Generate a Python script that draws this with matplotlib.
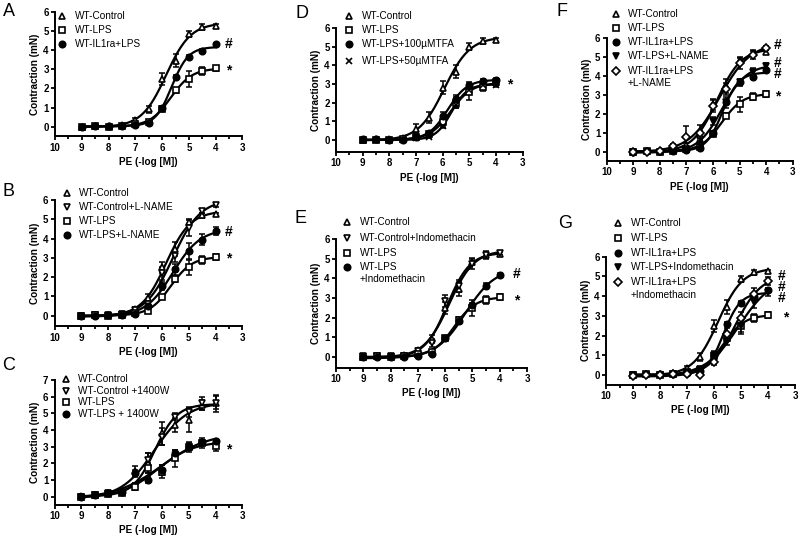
import matplotlib

matplotlib.use("Agg")
import matplotlib.pyplot as plt
from matplotlib.lines import Line2D
import numpy as np

plt.rcParams["font.family"] = ["Liberation Sans", "DejaVu Sans"]

W, H = 800, 536

# PE concentrations (-log [M])
PE = [9, 8.5, 8, 7.5, 7, 6.5, 6, 5.5, 5, 4.5, 4]

# shared groups (A, B, E, F, G)
wt_control = [0.0, 0.05, 0.05, 0.1, 0.35, 0.9, 2.5, 3.45, 4.85, 5.2, 5.25]
wt_control_err = [0.05, 0.05, 0.05, 0.05, 0.1, 0.2, 0.3, 0.35, 0.15, 0.15, 0.1]
wt_lps = [0.0, 0.05, 0.0, 0.05, 0.15, 0.25, 0.95, 1.9, 2.5, 2.9, 3.05]
wt_lps_err = [0.05, 0.05, 0.05, 0.05, 0.05, 0.05, 0.1, 0.15, 0.4, 0.2, 0.15]
wt_il1ra_lps = [0.0, 0.05, 0.05, 0.05, 0.1, 0.2, 1.0, 2.6, 3.65, 3.95, 4.3]
wt_il1ra_lps_err = [0.05, 0.05, 0.05, 0.05, 0.05, 0.05, 0.1, 0.1, 0.1, 0.1, 0.1]

# B
ctrl_lname = [0.0, 0.05, 0.05, 0.1, 0.3, 0.6, 2.2, 3.1, 4.55, 5.45, 5.75]
ctrl_lname_err = [0.05, 0.05, 0.05, 0.05, 0.1, 0.15, 0.35, 0.3, 0.4, 0.1, 0.1]
lps_lname = [0.0, 0.0, 0.05, 0.05, 0.1, 0.5, 1.55, 2.4, 3.35, 3.95, 4.4]
lps_lname_err = [0.05, 0.05, 0.05, 0.05, 0.05, 0.1, 0.2, 0.3, 0.4, 0.3, 0.2]

# C
c_ctrl = [0.05, 0.1, 0.2, 0.3, 1.55, 2.0, 3.8, 4.3, 4.6, 5.5, 5.65]
c_ctrl_err = [0.05, 0.05, 0.1, 0.1, 0.3, 0.6, 0.7, 0.4, 0.7, 0.3, 0.4]
c_ctrl_1400w = [0.0, 0.1, 0.2, 0.3, 0.6, 2.2, 3.6, 4.8, 5.1, 5.6, 5.6]
c_ctrl_1400w_err = [0.05, 0.05, 0.05, 0.1, 0.2, 0.4, 0.5, 0.2, 0.3, 0.4, 0.5]
c_lps = [0.0, 0.1, 0.15, 0.2, 0.6, 1.7, 1.5, 2.3, 3.0, 3.2, 3.05]
c_lps_err = [0.05, 0.05, 0.05, 0.1, 0.2, 0.3, 0.4, 0.5, 0.3, 0.3, 0.3]
c_lps_1400w = [0.0, 0.1, 0.2, 0.3, 1.4, 1.0, 1.6, 2.6, 3.0, 3.3, 3.35]
c_lps_1400w_err = [0.05, 0.05, 0.05, 0.1, 0.2, 0.2, 0.3, 0.2, 0.2, 0.1, 0.1]

# D
d_ctrl = [0.0, 0.05, 0.05, 0.1, 0.6, 1.2, 2.8, 3.65, 5.0, 5.3, 5.35]
d_ctrl_err = [0.05, 0.05, 0.05, 0.05, 0.25, 0.3, 0.35, 0.35, 0.2, 0.15, 0.1]
d_lps = [0.0, 0.0, 0.0, 0.05, 0.15, 0.3, 0.95, 2.0, 2.55, 2.85, 3.1]
d_lps_err = [0.05, 0.05, 0.05, 0.05, 0.05, 0.1, 0.2, 0.3, 0.4, 0.2, 0.15]
d_mtfa100 = [0.05, 0.05, 0.0, 0.0, 0.15, 0.35, 1.3, 2.2, 2.95, 3.15, 3.2]
d_mtfa100_err = [0.05, 0.05, 0.05, 0.05, 0.05, 0.1, 0.2, 0.2, 0.15, 0.1, 0.1]
d_mtfa50 = [0.0, 0.0, 0.0, 0.0, 0.1, 0.15, 0.75, 1.9, 2.7, 2.95, 2.95]
d_mtfa50_err = [0.05, 0.05, 0.05, 0.05, 0.05, 0.05, 0.1, 0.2, 0.2, 0.1, 0.1]

# E
ctrl_indo = [0.05, 0.05, 0.05, 0.05, 0.3, 0.7, 2.85, 3.6, 4.75, 5.2, 5.3]
ctrl_indo_err = [0.1, 0.05, 0.05, 0.05, 0.1, 0.2, 0.3, 0.3, 0.3, 0.2, 0.1]
lps_indo_e = [0.0, 0.0, 0.0, 0.0, 0.05, 0.15, 0.95, 1.85, 2.65, 3.6, 4.15]
lps_indo_e_err = [0.05, 0.05, 0.05, 0.05, 0.05, 0.05, 0.1, 0.1, 0.1, 0.15, 0.1]

# F
f_lps_lname = [0.0, 0.0, 0.0, 0.05, 0.1, 0.4, 1.6, 2.6, 3.65, 4.2, 4.5]
f_lps_lname_err = [0.05, 0.05, 0.05, 0.05, 0.05, 0.1, 0.2, 0.3, 0.2, 0.2, 0.15]
f_il1ra_lname = [0.0, 0.0, 0.05, 0.3, 0.75, 1.0, 2.4, 3.3, 4.65, 5.1, 5.45]
f_il1ra_lname_err = [0.05, 0.05, 0.05, 0.1, 0.6, 0.4, 0.3, 0.3, 0.3, 0.2, 0.1]

# G
g_lps_indo = [0.0, 0.0, 0.0, 0.05, 0.1, 0.3, 1.0, 1.7, 2.5, 3.7, 4.2]
g_lps_indo_err = [0.05, 0.05, 0.05, 0.05, 0.05, 0.1, 0.2, 0.2, 0.3, 0.3, 0.2]
g_il1ra_indo = [-0.05, 0.0, 0.0, 0.05, 0.05, 0.0, 0.65, 2.1, 2.9, 4.1, 4.75]
g_il1ra_indo_err = [0.05, 0.05, 0.05, 0.05, 0.05, 0.05, 0.15, 0.3, 0.3, 0.3, 0.2]

# marker styles: (marker, filled, size)
STYLES = {
    "tri": ("^", False, 4.8),
    "vtri": ("v", False, 4.8),
    "vfill": ("v", True, 4.8),
    "sq": ("s", False, 4.2),
    "dot": ("o", True, 4.6),
    "dia": ("D", False, 3.8),
    "x": ("x", True, 4.4),
}


def fit_sigmoid(x, y):
    """Least-squares 4-parameter logistic (grid over pEC50/slope, linear in bottom/top)."""
    x = np.asarray(x, float)
    y = np.asarray(y, float)
    pec = np.arange(4.0, 8.0, 0.01)[:, None, None]
    hill = np.arange(0.5, 3.0, 0.05)[None, :, None]
    f = 1.0 / (1.0 + 10 ** ((x[None, None, :] - pec) * hill))
    fm = f.mean(axis=2, keepdims=True)
    ym = y.mean()
    a = ((f - fm) * (y - ym)).sum(axis=2, keepdims=True) / ((f - fm) ** 2).sum(axis=2, keepdims=True)
    b = ym - a * fm
    sse = ((b + a * f - y) ** 2).sum(axis=2)
    i, j = np.unravel_index(np.argmin(sse), sse.shape)
    return pec[i, 0, 0], hill[0, j, 0], b[i, j, 0], a[i, j, 0]


def panel(fig, rect_px, ymax, ybot, letter, letter_xy, series, legend, marks):
    left, right, y_top, y_zero = rect_px
    unit = (y_zero - y_top) / ymax
    y_bot = y_zero - ybot * unit
    ax = fig.add_axes([left / W, 1 - y_bot / H, (right - left) / W, (y_bot - y_top) / H])
    ax.set_xlim(10, 3)
    ax.set_ylim(ybot, ymax)
    for side in ("top", "right"):
        ax.spines[side].set_visible(False)
    for side in ("left", "bottom"):
        ax.spines[side].set_linewidth(1.4)
    ax.set_xticks(range(3, 11))
    ax.set_xticks(np.arange(3.5, 10, 1), minor=True)
    ax.set_yticks(range(0, ymax + 1))
    ax.tick_params(which="major", direction="out", length=3, width=1.3, pad=1.5, labelsize=7)
    ax.tick_params(which="minor", direction="out", length=2, width=1.3)
    for lab in ax.get_xticklabels() + ax.get_yticklabels():
        lab.set_fontweight("bold")
    ax.set_xlabel("PE (-log [M])", fontsize=7.2, fontweight="bold", labelpad=3)
    ax.set_ylabel("Contraction (mN)", fontsize=7.2, fontweight="bold", labelpad=2)

    xs = np.linspace(4, 9, 200)
    for vals, errs, style in series:
        pec, h, b, a = fit_sigmoid(PE, vals)
        ax.plot(xs, b + a / (1 + 10 ** ((xs - pec) * h)), color="black", lw=1.6, zorder=2)
        m, filled, ms = STYLES[style]
        ax.errorbar(PE, vals, yerr=errs, fmt="none", ecolor="black", elinewidth=1.1,
                    capsize=2.3, capthick=1.1, zorder=3)
        ax.plot(PE, vals, ls="none", marker=m, ms=ms, mew=1.2, mec="black",
                mfc="black" if filled else "white", zorder=4)

    # significance marks; stacked ones share one text
    for txt, px, py in marks:
        ax.text(px, py, txt, fontsize=10, fontweight="bold", ha="center", va="center",
                linespacing=0.74)

    fig.text(letter_xy[0] / W, 1 - letter_xy[1] / H, letter, fontsize=13, ha="center", va="center")

    mx, tx, rows, labels, styles = legend
    for ry, lab, st in zip(rows, labels, styles):
        m, filled, ms = STYLES[st]
        fig.add_artist(Line2D([mx / W], [1 - ry / H], transform=fig.transFigure, ls="none",
                              marker=m, ms=ms, mew=1.2, mec="black",
                              mfc="black" if filled else "white"))
        for k, line in enumerate(lab.split("\n")):
            fig.text(tx / W, 1 - (ry + 12.5 * k) / H, line, fontsize=7.2, ha="left", va="center")
    return ax


fig = plt.figure(figsize=(W / 100, H / 100), dpi=100)

panel(fig, (55, 242.5, 12, 126.7), 6, -0.5, "A", (9, 11),
      [(wt_control, wt_control_err, "tri"), (wt_lps, wt_lps_err, "sq"),
       (wt_il1ra_lps, wt_il1ra_lps_err, "dot")],
      (62, 75, [16, 30, 44], ["WT-Control", "WT-LPS", "WT-IL1ra+LPS"], ["tri", "sq", "dot"]),
      [("#", 3.52, 4.3), ("*", 3.52, 2.95)])

panel(fig, (54.5, 242.5, 200, 315.7), 6, -0.55, "B", (9, 191),
      [(wt_control, wt_control_err, "tri"), (ctrl_lname, ctrl_lname_err, "vtri"),
       (wt_lps, wt_lps_err, "sq"), (lps_lname, lps_lname_err, "dot")],
      (67, 79, [193, 207, 221, 235],
       ["WT-Control", "WT-Control+L-NAME", "WT-LPS", "WT-LPS+L-NAME"],
       ["tri", "vtri", "sq", "dot"]),
      [("#", 3.5, 4.35), ("*", 3.5, 2.95)])

panel(fig, (54.5, 242.5, 380, 496.7), 7, -0.5, "C", (9, 366),
      [(c_ctrl, c_ctrl_err, "tri"), (c_ctrl_1400w, c_ctrl_1400w_err, "vtri"),
       (c_lps, c_lps_err, "sq"), (c_lps_1400w, c_lps_1400w_err, "dot")],
      (66, 78, [379, 390.5, 402, 414],
       ["WT-Control", "WT-Control +1400W", "WT-LPS", "WT-LPS + 1400W"],
       ["tri", "vtri", "sq", "dot"]),
      [("*", 3.5, 2.85)])

panel(fig, (336, 522.7, 28, 140), 6, -0.65, "D", (302, 13),
      [(d_ctrl, d_ctrl_err, "tri"), (d_lps, d_lps_err, "sq"),
       (d_mtfa100, d_mtfa100_err, "dot"), (d_mtfa50, d_mtfa50_err, "x")],
      (349, 362, [16, 30, 44, 61],
       ["WT-Control", "WT-LPS", "WT-LPS+100\u00b5MTFA", "WT-LPS+50\u00b5MTFA"],
       ["tri", "sq", "dot", "x"]),
      [("*", 3.48, 2.95)])

panel(fig, (336, 527, 239, 357), 6, -0.55, "E", (300, 219),
      [(wt_control, wt_control_err, "tri"), (ctrl_indo, ctrl_indo_err, "vtri"),
       (wt_lps, wt_lps_err, "sq"), (lps_indo_e, lps_indo_e_err, "dot")],
      (347, 360, [222, 238, 253, 267],
       ["WT-Control", "WT-Control+Indomethacin", "WT-LPS", "WT-LPS\n+Indomethacin"],
       ["tri", "vtri", "sq", "dot"]),
      [("#", 3.38, 4.2), ("*", 3.38, 2.85)])

panel(fig, (606.7, 792.7, 37.7, 151.7), 6, -0.5, "F", (562, 11),
      [(wt_control, wt_control_err, "tri"), (wt_lps, wt_lps_err, "sq"),
       (wt_il1ra_lps, wt_il1ra_lps_err, "dot"), (f_lps_lname, f_lps_lname_err, "vfill"),
       (f_il1ra_lname, f_il1ra_lname_err, "dia")],
      (616, 628, [14, 28, 42, 56, 71],
       ["WT-Control", "WT-LPS", "WT-IL1ra+LPS", "WT-LPS+L-NAME", "WT-IL1ra+LPS\n+L-NAME"],
       ["tri", "sq", "dot", "vfill", "dia"]),
      [("#", 3.55, 5.6), ("#\n#", 3.55, 4.4), ("*", 3.55, 2.9)])

panel(fig, (606, 795, 256.7, 375), 6, -0.5, "G", (565, 224),
      [(wt_control, wt_control_err, "tri"), (wt_lps, wt_lps_err, "sq"),
       (wt_il1ra_lps, wt_il1ra_lps_err, "dot"), (g_lps_indo, g_lps_indo_err, "vfill"),
       (g_il1ra_indo, g_il1ra_indo_err, "dia")],
      (618, 631, [223, 238, 253, 267, 282],
       ["WT-Control", "WT-LPS", "WT-IL1ra+LPS", "WT-LPS+Indomethacin",
        "WT-IL1ra+LPS\n+Indomethacin"],
       ["tri", "sq", "dot", "vfill", "dia"]),
      [("#\n#\n#", 3.5, 4.45), ("*", 3.35, 2.9)])

fig.savefig("out.png", dpi=100)
